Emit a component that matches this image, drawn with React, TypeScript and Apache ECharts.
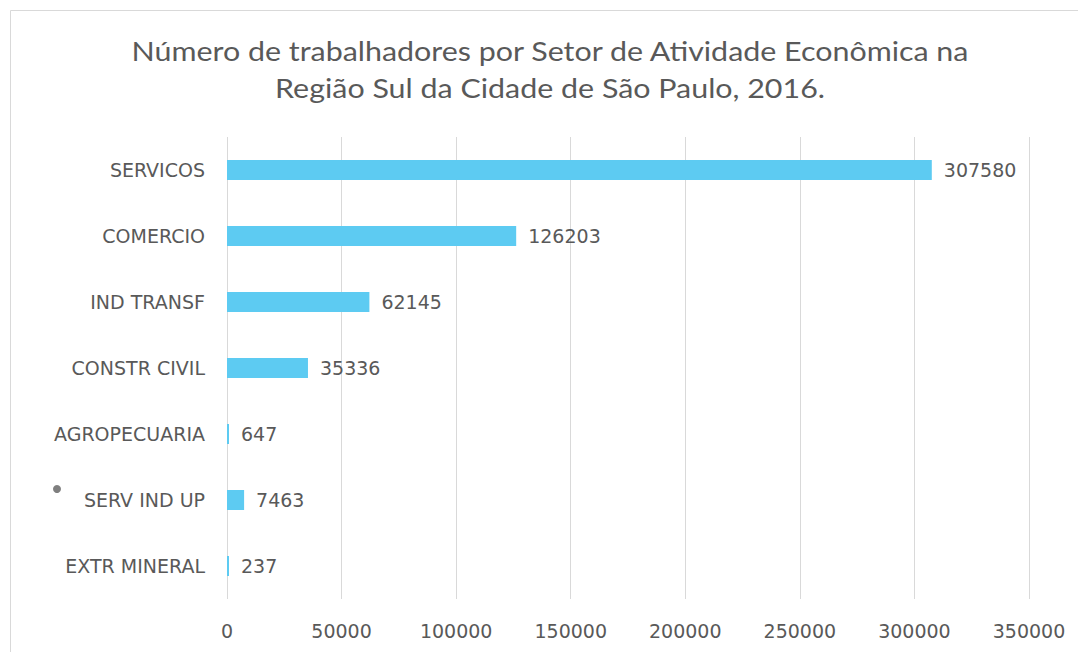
import React, { useEffect, useRef } from "react";
import * as echarts from "echarts";

const categories = ["SERVICOS", "COMERCIO", "IND TRANSF", "CONSTR CIVIL", "AGROPECUARIA", "SERV IND UP", "EXTR MINERAL"];
const values = [307580, 126203, 62145, 35336, 647, 7463, 237];
const titleLines = ["Número de trabalhadores por Setor de Atividade Econômica na", "Região Sul da Cidade de São Paulo, 2016."];

const TITLE_FONT = "Lato";
const FONT = "DejaVu Sans";
const GREY = "#595959";

export default function App() {
  const ref = useRef<HTMLDivElement>(null);
  useEffect(() => {
    const chart = echarts.init(ref.current!, null, { renderer: "svg" });
    chart.setOption({
      animation: false,
      backgroundColor: "#ffffff",
      graphic: [
        { type: "rect", shape: { x: 10.5, y: 10.5, width: 1100, height: 700 }, style: { fill: "none", stroke: "#D9D9D9", lineWidth: 1 }, z: -1 },
        {
          type: "text",
          x: 550,
          y: 32,
          scaleX: 1.17,
          style: { text: titleLines.join("\n"), fontFamily: TITLE_FONT, fontSize: 26, lineHeight: 37, fill: GREY, align: "center" },
        },
        { type: "circle", shape: { cx: 57, cy: 489, r: 4 }, style: { fill: "#7F7F7F" } },
      ],
      grid: { left: 227, right: 49, top: 137, bottom: 53 },
      xAxis: {
        type: "value",
        min: 0,
        max: 350000,
        interval: 50000,
        axisLine: { show: false },
        axisTick: { show: false },
        axisLabel: { color: GREY, fontFamily: FONT, fontSize: 19, margin: 22, formatter: (v: number) => String(v) },
        splitLine: { lineStyle: { color: "#D9D9D9", width: 1 } },
      },
      yAxis: {
        type: "category",
        data: categories,
        inverse: true,
        axisLine: { show: false },
        axisTick: { show: false },
        axisLabel: { color: GREY, fontFamily: FONT, fontSize: 19, margin: 22 },
      },
      series: [
        {
          type: "bar",
          data: values,
          barWidth: 20,
          barMinHeight: 2,
          itemStyle: { color: "#5DCBF2" },
          label: { show: true, position: "right", distance: 12, color: GREY, fontFamily: FONT, fontSize: 19 },
        },
      ],
    });
    return () => chart.dispose();
  }, []);
  return <div ref={ref} style={{ position: "fixed", left: 0, top: 0, width: 1078, height: 652 }} />;
}
